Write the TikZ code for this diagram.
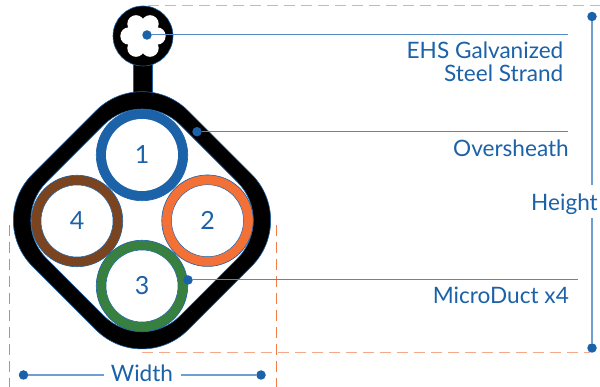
\documentclass[tikz,border=0pt]{standalone}
\usepackage{fontspec}
\setmainfont{Lato}
\definecolor{lblue}{HTML}{1B62A8}
\definecolor{lline}{HTML}{6F9FD0}
\definecolor{dashh}{HTML}{F6A98A}
\definecolor{dashv}{HTML}{F37C4C}
\definecolor{ductO}{HTML}{F37036}
\definecolor{ductG}{HTML}{37803F}
\definecolor{ductB}{HTML}{7A4420}
\tikzset{
  lbl/.style={text=lblue,font=\fontsize{22.6}{25}\selectfont,inner sep=0pt,anchor=base east,align=right},
  num/.style={text=lblue,font=\fontsize{25}{27}\selectfont,inner sep=0pt},
  dotn/.style={circle,fill=lblue,draw=none,minimum size=9.5pt,inner sep=0pt},
  leader/.style={draw=lblue!75!white,line width=1pt},
  dimline/.style={draw=lline,line width=1.4pt},
  ring/.style={circle,draw=lblue,line width=0.6pt,fill=#1,minimum size=91.5pt,inner sep=0pt},
  hole/.style={circle,fill=white,draw=lblue,line width=0.5pt,minimum size=72pt,inner sep=0pt},
  dashH/.style={draw=dashh,line width=1.5pt,dash pattern=on 11pt off 6pt},
  dashV/.style={draw=dashv,line width=1.2pt,dash pattern=on 11pt off 6pt},
}
\begin{document}
\begin{tikzpicture}[x=1pt,y=-1pt]
\useasboundingbox[fill=white] (0,0) rectangle (600,387);
% dimension dashes
\coordinate (dt1) at (148,5.7); \coordinate (dt2) at (600,5.7);
\coordinate (db1) at (142,352.7); \coordinate (db2) at (590,352.7);
\coordinate (dl1) at (9.7,225); \coordinate (dl2) at (9.7,387);
\coordinate (dr1) at (276.5,225); \coordinate (dr2) at (276.5,387);
\draw[dashH] (dt1) -- (dt2);
\draw[dashH] (db1) -- (db2);
\draw[dashV] (dl1) -- (dl2);
\draw[dashV] (dr1) -- (dr2);
% stem and strand
\fill[black,draw=lblue,line width=0.5pt] (133.3,36) rectangle (152.3,104);
\node[circle,fill=black,draw=lblue,line width=0.6pt,minimum size=60pt,inner sep=0pt] (strand) at (143,36) {};
\foreach \a in {0,60,...,300}
  \fill[white] (strand.center) ++(\a:14) circle[radius=8.7];
\fill[white] (strand.center) circle[radius=12];
% oversheath
\begin{scope}[shift={(142,220.3)},rotate=45]
  \path[fill=black,even odd rule,draw=lblue,line width=0.6pt]
    [rounded corners=65pt] (-110,-110) rectangle (110,110)
    [rounded corners=54pt] (-94.5,-94.5) rectangle (94.5,94.5);
\end{scope}
% ducts
\node[ring=lblue] (r1) at (142,155) {};
\node[hole,draw=none] (h1) at (r1) {};
\node[num] (n1) at (h1) {1};
\node[ring=ductO] (r2) at (207.5,220.7) {};
\node[hole] (h2) at (r2) {};
\node[num] (n2) at (h2) {2};
\node[ring=ductG] (r3) at (142,286) {};
\node[hole] (h3) at (r3) {};
\node[num] (n3) at (h3) {3};
\node[ring=ductB] (r4) at (77,221) {};
\node[hole] (h4) at (r4) {};
\node[num] (n4) at (h4) {4};
% leaders
\node[dotn] (d1) at (147,35) {};
\coordinate (e1) at (568,35);
\draw[leader] (d1) -- (e1);
\node[dotn] (d2) at (197,131.7) {};
\coordinate (e2) at (568,131.7);
\draw[leader] (d2) -- (e2);
\node[dotn] (d3) at (188,280) {};
\coordinate (e3) at (578,280);
\draw[leader] (d3) -- (e3);
% labels
\node[lbl] (t1) at (563.5,59) {EHS Galvanized};
\node[lbl] (t1b) at (563.5,82) {Steel Strand};
\node[lbl] (t2) at (569,157) {Oversheath};
\node[lbl] (t3) at (569,304) {MicroDuct x4};
% height
\node[dotn] (ht) at (592,16.5) {};
\node[dotn] (hb) at (592,348) {};
\node[lbl] (height) at (598,211) {Height};
\coordinate (hg1) at (592,185); \coordinate (hg2) at (592,218.5);
\draw[dimline] (ht) -- (hg1);
\draw[dimline] (hg2) -- (hb);
% width
\node[dotn] (wl) at (23.5,375) {};
\node[dotn] (wr) at (261,375) {};
\node[lbl,anchor=base] (width) at (142,381.5) {Width};
\coordinate (wg1) at (103.5,375); \coordinate (wg2) at (180.5,375);
\draw[dimline] (wl) -- (wg1);
\draw[dimline] (wg2) -- (wr);
\end{tikzpicture}
\end{document}
